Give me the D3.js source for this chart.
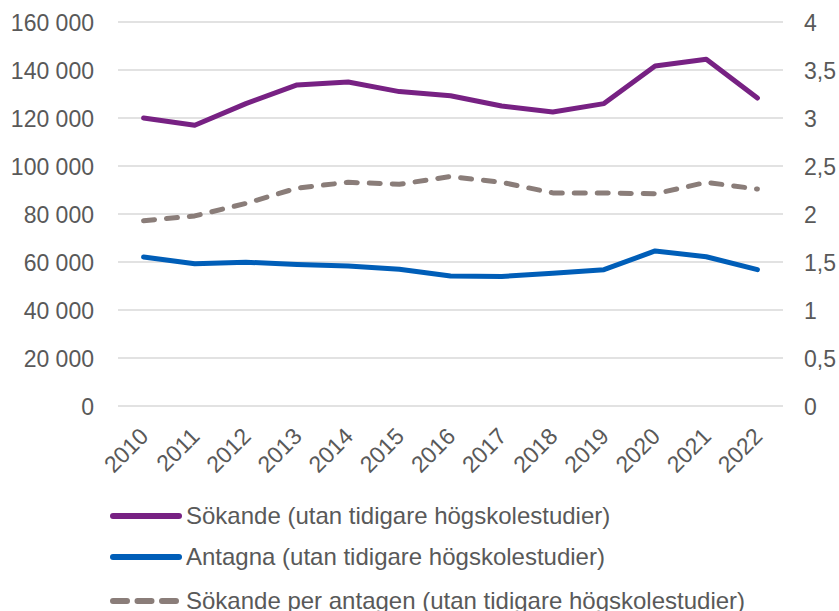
<!DOCTYPE html>
<html>
<head>
<meta charset="utf-8">
<script src="https://cdn.jsdelivr.net/npm/d3@7"></script>
<style>
  body { margin: 0; background: #fff; }
  svg text { font-family: "Liberation Sans", Arial, sans-serif; fill: #595959; }
</style>
</head>
<body>
<div id="chart"></div>
<script>
const years = ["2010","2011","2012","2013","2014","2015","2016","2017","2018","2019","2020","2021","2022"]
const sokande = [120000,117000,126000,133800,135000,131000,129300,125000,122500,126000,141700,144500,128300]
const antagna = [62100,59300,59900,59000,58300,57000,54200,54000,55300,56800,64600,62200,56800]
const perAntagen = [1.93,1.98,2.11,2.27,2.33,2.31,2.39,2.33,2.22,2.22,2.21,2.33,2.26]
const leftTicks = [0,20000,40000,60000,80000,100000,120000,140000,160000]
const rightTicks = [0,0.5,1,1.5,2,2.5,3,3.5,4]
const legendNames = ["Sökande (utan tidigare högskolestudier)", "Antagna (utan tidigare högskolestudier)", "Sökande per antagen (utan tidigare högskolestudier)"]

const width = 839, height = 611
const plotLeft = 118, plotRight = 783, plotTop = 22, plotBottom = 406

const svg = d3.select("#chart").append("svg")
  .attr("width", width)
  .attr("height", height)

const x = d3.scalePoint().domain(years).range([plotLeft, plotRight]).padding(0.5)
const yL = d3.scaleLinear().domain([0, 160000]).range([plotBottom, plotTop])
const yR = d3.scaleLinear().domain([0, 4]).range([plotBottom, plotTop])

// grid
svg.selectAll("line.grid")
  .data(leftTicks)
  .join("line")
  .attr("x1", plotLeft).attr("x2", plotRight)
  .attr("y1", d => yL(d)).attr("y2", d => yL(d))
  .attr("stroke", "#d9d9d9").attr("stroke-width", 1.3)

const fmt = d => d3.format(",")(d).replace(/,/g, " ")

const axL = svg.append("g")
  .attr("transform", "translate(" + (plotLeft - 21) + ",0)")
  .call(d3.axisLeft(yL).tickValues(leftTicks).tickFormat(fmt).tickSize(0))
axL.select(".domain").remove()
axL.selectAll("text").attr("font-size", 23).attr("fill", "#595959").attr("dy", "0.35em")

const axR = svg.append("g")
  .attr("transform", "translate(" + (plotRight + 18) + ",0)")
  .call(d3.axisRight(yR).tickValues(rightTicks).tickFormat(d => String(d).replace(".", ",")).tickSize(0))
axR.select(".domain").remove()
axR.selectAll("text").attr("font-size", 23).attr("fill", "#595959").attr("dy", "0.35em")

const axX = svg.append("g")
  .attr("transform", "translate(0," + plotBottom + ")")
  .call(d3.axisBottom(x).tickSize(0))
axX.select(".domain").remove()
axX.selectAll("text")
  .attr("font-size", 23).attr("fill", "#595959")
  .attr("text-anchor", "end")
  .attr("dy", "0.35em")
  .attr("transform", "translate(-2,24) rotate(-45)")

const series = [
  { vals: sokande, y: yL, color: "#772183", dash: null },
  { vals: antagna, y: yL, color: "#005eb8", dash: null },
  { vals: perAntagen, y: yR, color: "#8a7d79", dash: "11,12" }
]

series.forEach(s => {
  const line = d3.line()
    .x((d, i) => x(years[i]))
    .y(d => s.y(d))
  svg.append("path")
    .datum(s.vals)
    .attr("d", line)
    .attr("fill", "none")
    .attr("stroke", s.color)
    .attr("stroke-width", 5)
    .attr("stroke-linejoin", "round")
    .attr("stroke-linecap", "round")
    .attr("stroke-dasharray", s.dash)
})

// legend
const legY = [516, 557, 601]
legendNames.forEach((name, i) => {
  const s = series[i]
  svg.append("line")
    .attr("x1", 113).attr("x2", 179)
    .attr("y1", legY[i]).attr("y2", legY[i])
    .attr("stroke", s.color).attr("stroke-width", 6)
    .attr("stroke-linecap", "round")
    .attr("stroke-dasharray", s.dash ? "14,10.5" : null)
  svg.append("text")
    .attr("x", 186).attr("y", legY[i])
    .attr("dy", "0.35em")
    .attr("font-size", 24)
    .text(name)
})
</script>
</body>
</html>
